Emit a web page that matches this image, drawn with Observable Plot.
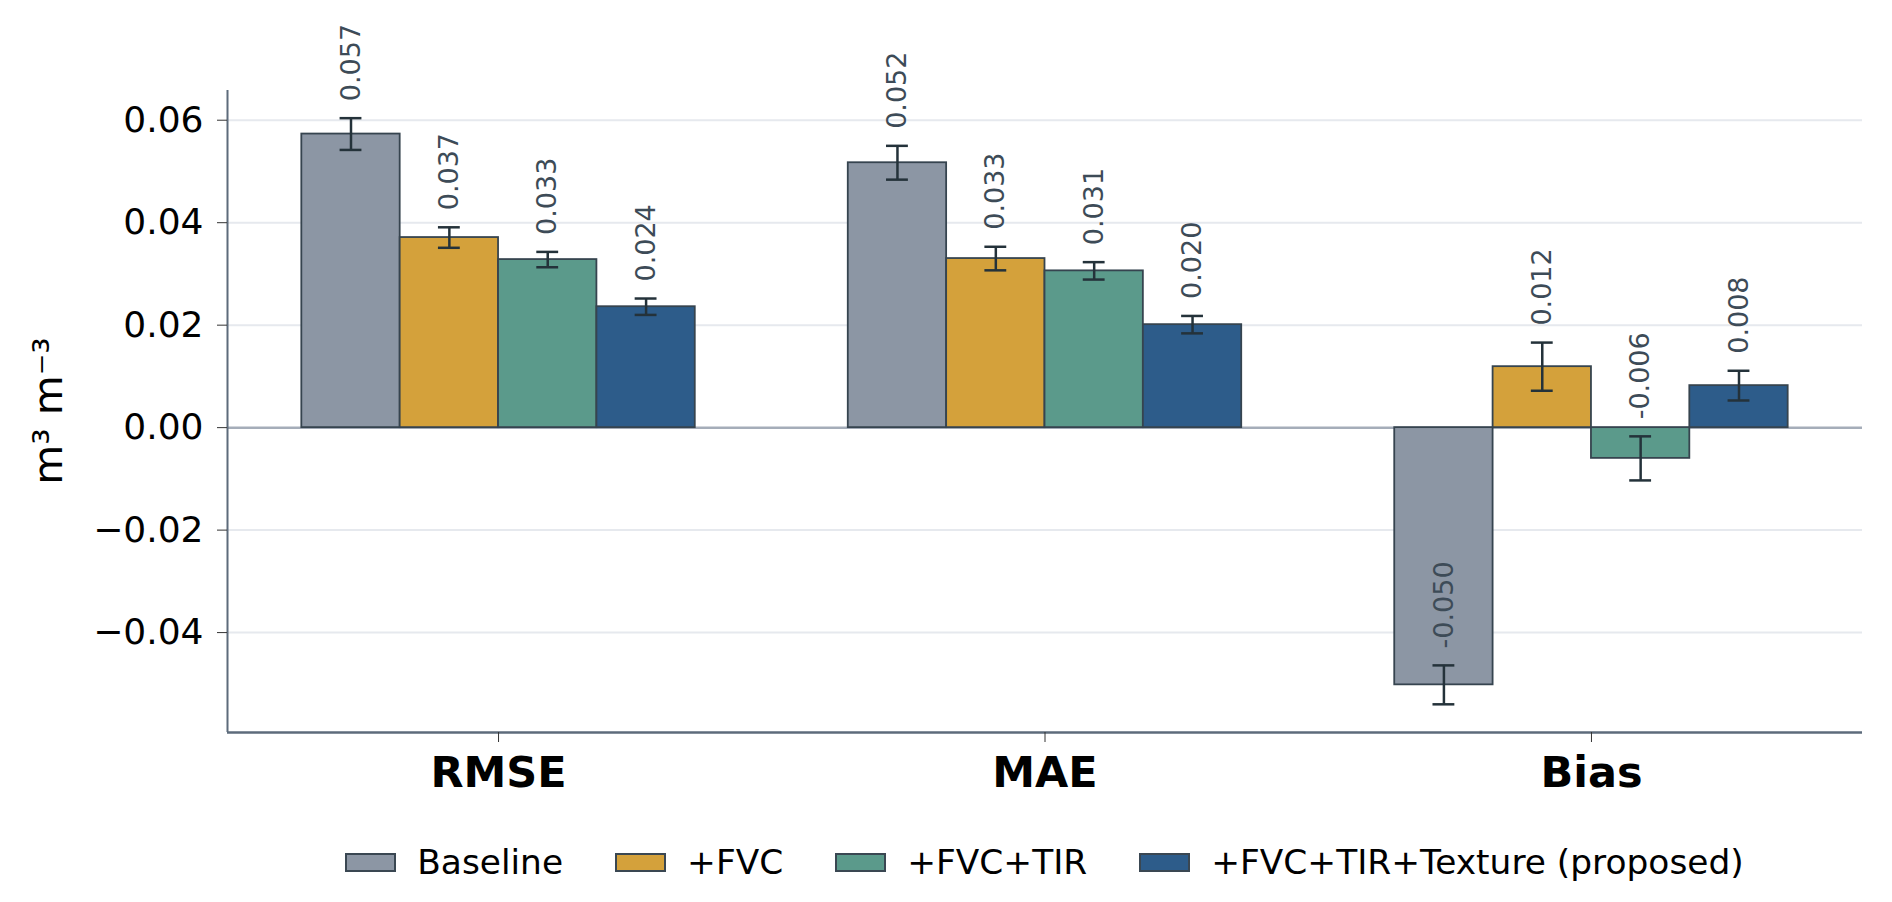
<!DOCTYPE html>
<html>
<head>
<meta charset="utf-8">
<script src="https://cdn.jsdelivr.net/npm/d3@7"></script>
<script src="https://cdn.jsdelivr.net/npm/@observablehq/plot@0.6"></script>
<style>
  html, body { margin: 0; padding: 0; background: white; }
  body { width: 1892px; height: 902px; overflow: hidden; font-family: "DejaVu Sans", sans-serif; }
  #chart { position: absolute; left: 0; top: 0; }
  #legend { position: absolute; left: 227px; width: 1635px; top: 842px; height: 40px;
            display: flex; justify-content: center; align-items: center; font-size: 34.4px; color: #000; }
  .item { display: flex; align-items: center; margin: 0 26px; white-space: nowrap; }
  .sw { width: 47px; height: 15px; border: 2px solid #3a4752; margin-right: 21px; }
</style>
</head>
<body>
<div id="chart"></div>
<div id="legend"></div>
<script>
const metrics = ["RMSE", "MAE", "Bias"];
const models = ["Baseline", "+FVC", "+FVC+TIR", "+FVC+TIR+Texture (proposed)"];
const colors = ["#8c96a4", "#d4a13b", "#5b9a8b", "#2d5c8a"];

const baselineVals = [0.0573, 0.0517, -0.0502];
const fvcVals      = [0.0371, 0.0330, 0.0119];
const tirVals      = [0.0328, 0.0306, -0.0060];
const texVals      = [0.0236, 0.0201, 0.0082];

const baselineErr = [0.0031, 0.0033, 0.0038];
const fvcErr      = [0.0020, 0.0023, 0.0047];
const tirErr      = [0.0015, 0.0017, 0.0043];
const texErr      = [0.0016, 0.0017, 0.0029];

const yTicks = [-0.04, -0.02, 0, 0.02, 0.04, 0.06];
const yLabel = "m³ m⁻³";

const barW = 0.18;
const seriesVals = [baselineVals, fvcVals, tirVals, texVals];
const seriesErr = [baselineErr, fvcErr, tirErr, texErr];

const data = [];
models.forEach((m, j) => {
  metrics.forEach((g, i) => {
    const c = i + (j - 1.5) * barW;
    const v = seriesVals[j][i], e = seriesErr[j][i];
    data.push({model: m, metric: g, c, x1: c - barW / 2, x2: c + barW / 2, v, e,
               lo: v - e, hi: v + e, label: v.toFixed(3)});
  });
});

const xDomain = [-0.496, 2.496];
const yDomain = [-0.0595, 0.0658];

const plot = Plot.plot({
  width: 1892,
  height: 810,
  marginLeft: 227,
  marginRight: 30,
  marginTop: 90,
  marginBottom: 78,
  style: {fontFamily: "DejaVu Sans", fontSize: "36px", background: "white", overflow: "visible"},
  x: {type: "linear", domain: xDomain, axis: null},
  y: {domain: yDomain, axis: null},
  color: {domain: models, range: colors},
  marks: [
    Plot.gridY(yTicks.filter(d => d !== 0), {stroke: "#e6e9ee", strokeOpacity: 1, strokeWidth: 2}),
    Plot.ruleY([0], {stroke: "#a5adb9", strokeWidth: 2.5}),
    Plot.rect(data, {x1: "x1", x2: "x2", y1: 0, y2: "v", fill: "model", stroke: "#36444f", strokeWidth: 1.8}),
    Plot.ruleX(data, {x: "c", y1: "lo", y2: "hi", stroke: "#24323a", strokeWidth: 2.5}),
    Plot.ruleY(data, {y: "hi", x1: d => d.c - 0.02, x2: d => d.c + 0.02, stroke: "#24323a", strokeWidth: 2.5}),
    Plot.ruleY(data, {y: "lo", x1: d => d.c - 0.02, x2: d => d.c + 0.02, stroke: "#24323a", strokeWidth: 2.5}),
    Plot.text(data, {x: "c", y: "hi", text: "label", rotate: -90, textAnchor: "start", dy: -17,
                     fontSize: 27, fill: "#3d4b57"}),
    Plot.ruleX([xDomain[0]], {stroke: "#5d6b7b", strokeWidth: 2}),
    Plot.ruleY([yDomain[0]], {stroke: "#5d6b7b", strokeWidth: 2.5}),
    Plot.axisY({ticks: yTicks, tickFormat: d3.format(".2f"), tickSize: 10, tickPadding: 14,
                fontSize: 36, label: null, stroke: "#333", fill: "#000"}),
    Plot.axisX({ticks: [0, 1, 2], tickFormat: i => metrics[i], tickSize: 10, tickPadding: 14,
                fontSize: 43, fontWeight: "bold", label: null, stroke: "#333", fill: "#000"})
  ]
});

d3.select(plot).append("text")
  .attr("transform", "translate(62,411) rotate(-90)")
  .attr("text-anchor", "middle")
  .attr("font-size", 41)
  .attr("fill", "#000")
  .text(yLabel);

document.getElementById("chart").appendChild(plot);

const legend = d3.select("#legend");
models.forEach((m, j) => {
  const it = legend.append("div").attr("class", "item");
  it.append("div").attr("class", "sw").style("background", colors[j]);
  it.append("span").text(m);
});
</script>
</body>
</html>
